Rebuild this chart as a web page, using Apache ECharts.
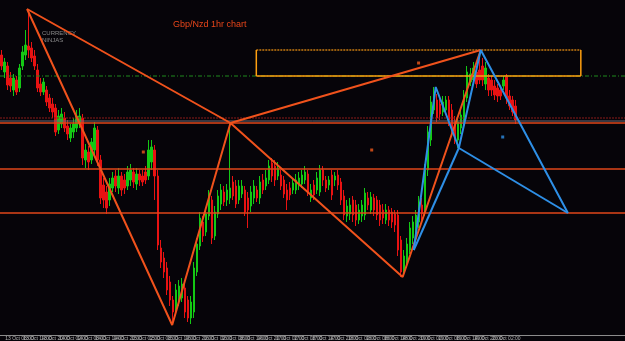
<!DOCTYPE html>
<html><head><meta charset="utf-8">
<script src="https://cdn.jsdelivr.net/npm/echarts@6/dist/echarts.min.js"></script>
<style>html,body{margin:0;padding:0;background:#060409;}#c{width:625px;height:341px;}</style>
</head><body><div id="c"></div>
<script>
// Hourly GBP/NZD candles, values in chart units (0 = bottom of plot, 335 = top)
const candleOpen = [280,263,269,257,245,255,247,269,280,289,287,279,265,251,243,245,237,231,227,205,211,217,209,197,203,207,211,217,175,183,175,185,205,175,150,143,135,147,159,147,159,155,149,155,163,151,161,159,163,159,173,185,159,87,77,67,53,35,27,35,37,47,35,17,23,63,89,113,103,119,135,99,121,131,143,135,137,153,149,135,141,145,137,129,137,145,137,155,149,155,172,169,159,160,155,145,147,145,145,149,151,155,161,137,150,145,143,165,155,150,160,155,160,153,139,119,121,135,130,115,119,120,137,125,137,135,130,125,115,125,123,121,120,95,65,73,85,97,103,113,130,123,165,195,225,235,231,223,225,235,225,213,195,207,211,237,253,255,263,265,269,251,257,255,249,247,245,249,258,239,235,229];
const candleClose = [269,273,250,249,257,243,267,283,290,285,277,269,247,243,253,233,227,223,203,219,221,207,201,207,211,219,219,177,185,173,193,207,175,137,135,127,151,157,149,159,145,147,163,165,153,161,155,153,155,185,188,159,90,73,63,45,35,23,45,49,51,23,17,33,67,91,117,99,121,139,97,123,139,145,133,145,147,139,131,149,149,123,125,143,149,137,153,145,157,169,159,155,167,149,141,135,140,152,155,157,160,163,143,145,140,157,165,155,147,155,140,159,150,135,120,129,130,120,115,125,130,142,130,138,125,120,115,117,125,115,113,110,85,63,79,91,107,113,120,133,121,165,203,233,239,217,221,233,235,215,205,197,213,220,239,263,261,267,251,255,255,267,245,245,240,239,239,255,237,229,223,215];
const candleLow = [265,257,245,243,239,240,243,265,275,277,273,265,243,239,240,229,223,217,199,201,207,203,195,193,197,203,207,170,167,165,171,179,169,131,127,121,129,143,143,141,139,141,145,149,147,145,149,149,151,155,165,135,85,67,57,40,29,10,21,29,33,17,13,11,17,59,85,93,99,115,91,95,117,125,129,129,131,135,127,131,137,119,107,123,131,133,131,141,145,151,153,149,155,145,137,125,135,141,141,145,147,151,139,133,135,141,139,149,143,145,135,149,145,130,115,113,115,113,109,111,113,115,125,121,119,115,109,111,111,109,107,103,79,58,59,67,81,91,97,107,115,119,159,189,221,213,215,219,221,209,199,191,187,201,207,233,249,251,247,251,249,245,239,239,235,233,235,245,231,225,219,211];
const candleHigh = [285,277,273,263,261,259,271,289,305,325,293,285,271,257,257,249,241,237,231,225,227,223,215,211,217,225,227,221,191,189,197,213,209,180,157,149,157,163,165,167,163,161,169,171,167,167,165,165,169,195,195,190,165,95,83,73,59,39,51,55,57,51,39,39,73,97,123,119,127,145,139,129,145,151,149,151,212,159,155,155,155,149,143,149,155,149,159,161,165,175,177,175,173,165,159,151,153,157,161,163,165,169,165,151,155,163,170,169,159,159,165,163,165,157,145,135,137,139,135,131,135,147,143,143,141,139,135,131,131,129,127,125,125,99,85,97,113,119,125,139,137,171,209,239,248,241,237,239,239,239,231,219,219,225,245,269,267,273,269,285,277,273,261,259,255,251,249,259,261,245,239,235];

// Harmonic pattern pivots [bar position, value]
const orangeX = [8.5, 326], orangeA = [56.8, 10], orangeB = [76.2, 212], orangeC = [133.5, 58], orangeD = [159.5, 285];
const blueX = [137.2, 85], blueA = [144.5, 248], blueB = [152.2, 187], blueC = [159.5, 285], blueD = [188.5, 122];
const orangeDots = [[47.2, 183], [123.2, 185], [138.8, 272]];
const blueDots = [[166.8, 198]];
// Horizontal levels
const levelOrange = [212, 166, 122];
const levelDarkRed = 217, levelGray = 214, levelGreen = 259;
// Target zone box
const boxLeft = 84.8, boxRight = 192.8, boxTop = 285, boxBottom = 259;

const totalBars = 208;
const dataBars = candleOpen.length;
const months = ['Jan','Feb','Mar','Apr','May','Jun','Jul','Aug','Sep','Oct','Nov','Dec'];
const categories = [];
for (let i = 0; i < totalBars; i++) {
  const d = new Date(Date.UTC(2014, 9, 13, 2) + i * 3600000);
  const hh = String(d.getUTCHours()).padStart(2,'0');
  categories.push(d.getUTCDate() + ' ' + months[d.getUTCMonth()] + ' ' + hh + ':00');
}

const XMIN = -0.5, XMAX = totalBars - 0.5;
const OR = '#f0521c', BL = '#2e8fe6';
function seg(pts, color, width, type) {
  return {type:'line', xAxisIndex:1, yAxisIndex:0, data:pts, symbol:'none', silent:true, z:5,
    lineStyle:{color:color, width:width, type:type||'solid'}};
}
const series = [];
series.push({type:'candlestick', xAxisIndex:0, yAxisIndex:0, barWidth:2, z:2,
  data: candleOpen.map((o,i)=>[o, candleClose[i], candleLow[i], candleHigh[i]]),
  itemStyle:{color:'#14c814', color0:'#e81212', borderColor:'#14c814', borderColor0:'#e81212', borderWidth:1}});
// horizontals
series.push(seg([[XMIN, levelGreen],[XMAX, levelGreen]], '#1f8a1f', 1, [4,2,1,2]));
series.push(seg([[XMIN, levelDarkRed],[XMAX, levelDarkRed]], '#8a1a1a', 1, [2,1]));
series.push(seg([[XMIN, levelGray],[XMAX, levelGray]], '#6a6a78', 1));
levelOrange.forEach(v => series.push(seg([[XMIN, v],[XMAX, v]], '#e0461a', 1.5)));
// box
series.push(seg([[boxLeft, boxTop],[boxRight, boxTop]], '#c87a10', 1.5, [2,1]));
series.push(seg([[boxLeft, boxBottom],[boxRight, boxBottom]], '#ffa010', 1.5));
series.push(seg([[boxLeft, boxTop],[boxLeft, boxBottom]], '#ffa010', 1.5));
series.push(seg([[boxRight, boxTop],[boxRight, boxBottom]], '#ffa010', 1.5));
// orange pattern
series.push(seg([orangeX, orangeA, orangeB, orangeC, orangeD], OR, 2));
series.push(seg([orangeX, orangeB], OR, 2));
series.push(seg([orangeB, orangeD], OR, 2));
// blue pattern
series.push(seg([blueX, blueA, blueB, blueC, blueD], BL, 2));
series.push(seg([blueX, blueB], BL, 2));
series.push(seg([blueB, blueD], BL, 2));
series.push({type:'scatter', xAxisIndex:1, data:orangeDots, symbol:'rect', symbolSize:3, itemStyle:{color:'#f05a1c'}, z:6, silent:true});
series.push({type:'scatter', xAxisIndex:1, data:blueDots, symbol:'rect', symbolSize:3, itemStyle:{color:BL}, z:6, silent:true});

const chart = echarts.init(document.getElementById('c'), null, {renderer:'canvas'});
chart.setOption({
  animation:false,
  backgroundColor:'#060409',
  title:{text:'Gbp/Nzd 1hr chart', left:173, top:20, padding:0, textStyle:{color:'#e8461a', fontSize:9, fontWeight:'normal', fontFamily:'Liberation Sans, Arial, sans-serif'}},
  graphic:[
    {type:'text', left:42, top:30, style:{text:'CURRENCY', fill:'#8a8a8a', font:'6px Liberation Sans, sans-serif'}},
    {type:'text', left:42, top:37, style:{text:'NINJAS', fill:'#8a8a8a', font:'6px Liberation Sans, sans-serif'}}
  ],
  grid:{left:0, right:0, top:0, bottom:6},
  xAxis:[
    {type:'category', data:categories, boundaryGap:true,
     axisLine:{show:true, lineStyle:{color:'#8c8c8c', width:1}}, axisTick:{show:false},
     splitLine:{show:false},
     axisLabel:{interval:5, fontSize:5, color:'#b4b4b4', margin:1, fontFamily:'Liberation Sans, sans-serif',
       formatter:(v,i)=> i < dataBars ? v : ''}},
    {type:'value', min:XMIN, max:XMAX, show:false, splitLine:{show:false}}
  ],
  yAxis:{type:'value', min:0, max:335, show:false, splitLine:{show:false}},
  series:series
});
</script></body></html>
